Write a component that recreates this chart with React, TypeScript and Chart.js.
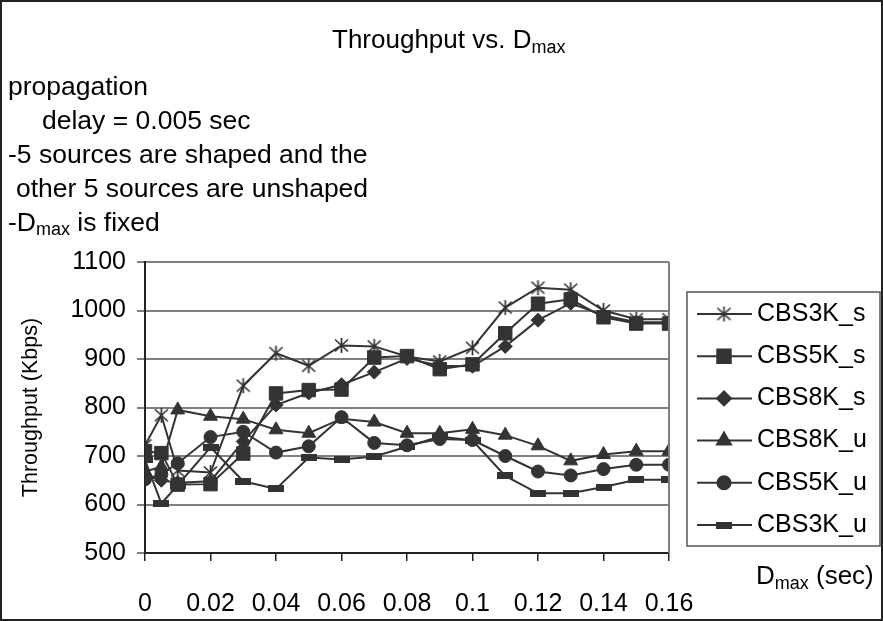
import { useEffect, useRef } from 'react';
import { Chart, registerables } from 'chart.js';
import { drawPoint } from 'chart.js/helpers';

Chart.register(...registerables);

// D_max values (sec) at which throughput was measured
const dmax = [0, 0.005, 0.01, 0.02, 0.03, 0.04, 0.05, 0.06, 0.07, 0.08, 0.09, 0.1, 0.11, 0.12, 0.13, 0.14, 0.15, 0.16];

// Throughput (Kbps) per series
const cbs3kS = [722, 784, 670, 666, 845, 912, 886, 928, 926, 905, 895, 923, 1006, 1047, 1043, 1000, 982, 982];
const cbs5kS = [710, 706, 641, 642, 705, 829, 836, 837, 903, 906, 879, 889, 953, 1014, 1023, 986, 973, 973];
const cbs8kS = [660, 650, 645, 648, 730, 805, 830, 847, 873, 901, 886, 885, 926, 980, 1015, 990, 976, 976];
const cbs8kU = [668, 678, 795, 782, 776, 754, 747, 777, 770, 747, 747, 755, 743, 721, 690, 703, 710, 710];
const cbs5kU = [652, 662, 685, 739, 750, 707, 720, 780, 727, 722, 735, 733, 700, 668, 660, 673, 682, 682];
const cbs3kU = [692, 602, 640, 718, 648, 632, 697, 693, 699, 719, 740, 732, 659, 623, 623, 636, 651, 651];

const seriesNames = ['CBS3K_s', 'CBS5K_s', 'CBS8K_s', 'CBS8K_u', 'CBS5K_u', 'CBS3K_u'];

const xTickValues = [0, 0.02, 0.04, 0.06, 0.08, 0.1, 0.12, 0.14, 0.16];
const yMin = 500;
const yMax = 1100;
const yStep = 100;

const noteLines: { text: string; sub?: string; rest?: string; indent: number }[] = [
  { text: 'propagation', indent: 8 },
  { text: 'delay = 0.005 sec', indent: 42 },
  { text: '-5 sources are shaped and the', indent: 8 },
  { text: 'other 5 sources are unshaped', indent: 16 },
  { text: '-D', sub: 'max', rest: ' is fixed', indent: 8 },
];

const INK = '#333333';
const FONT = '"Liberation Sans", Arial, Helvetica, sans-serif';
const TICK_SIZE = 25;
const NOTE_SIZE = 26.5;
const TITLE_SIZE = 26;

function makeAsterisk(): HTMLCanvasElement {
  const c = document.createElement('canvas');
  c.width = 17;
  c.height = 17;
  const g = c.getContext('2d')!;
  g.strokeStyle = INK;
  g.lineWidth = 1.7;
  g.beginPath();
  g.moveTo(8.5, 1);
  g.lineTo(8.5, 16);
  g.moveTo(2, 2.5);
  g.lineTo(15, 14.5);
  g.moveTo(15, 2.5);
  g.lineTo(2, 14.5);
  g.stroke();
  return c;
}

function makeDash(): HTMLCanvasElement {
  const c = document.createElement('canvas');
  c.width = 16;
  c.height = 7;
  const g = c.getContext('2d')!;
  g.fillStyle = INK;
  g.fillRect(0, 0, 16, 7);
  return c;
}

function drawWithSub(
  ctx: CanvasRenderingContext2D,
  x: number,
  y: number,
  size: number,
  text: string,
  sub?: string,
  rest?: string,
) {
  ctx.font = `${size}px ${FONT}`;
  ctx.fillText(text, x, y);
  let cx = x + ctx.measureText(text).width;
  if (sub) {
    const subSize = Math.round(size * 0.68);
    ctx.font = `${subSize}px ${FONT}`;
    ctx.fillText(sub, cx, y + size * 0.27);
    cx += ctx.measureText(sub).width;
    ctx.font = `${size}px ${FONT}`;
  }
  if (rest) {
    ctx.fillText(rest, cx, y);
  }
}

export default function App() {
  const canvasRef = useRef<HTMLCanvasElement | null>(null);

  useEffect(() => {
    const canvas = canvasRef.current;
    if (!canvas) return;

    const asterisk = makeAsterisk();
    const dash = makeDash();

    const styles: { pointStyle: any; radius: number }[] = [
      { pointStyle: asterisk, radius: 8 },
      { pointStyle: 'rect', radius: 9.5 },
      { pointStyle: 'rectRot', radius: 7 },
      { pointStyle: 'triangle', radius: 8 },
      { pointStyle: 'circle', radius: 6.5 },
      { pointStyle: dash, radius: 7 },
    ];
    const values = [cbs3kS, cbs5kS, cbs8kS, cbs8kU, cbs5kU, cbs3kU];

    const datasets = values.map((vals, i) => ({
      label: seriesNames[i],
      data: vals.map((v, j) => ({ x: dmax[j], y: v })),
      borderColor: INK,
      backgroundColor: INK,
      borderWidth: 2,
      pointStyle: styles[i].pointStyle,
      pointRadius: styles[i].radius,
      pointBackgroundColor: INK,
      pointBorderColor: INK,
      pointBorderWidth: 1,
      tension: 0,
      order: 5 - i,
    }));

    const decorations = {
      id: 'decorations',
      afterDraw(chart: Chart) {
        const ctx = chart.ctx;
        const area = chart.chartArea;
        ctx.save();

        // right edge of the plot frame
        ctx.strokeStyle = '#808080';
        ctx.lineWidth = 2;
        ctx.beginPath();
        ctx.moveTo(area.right, area.top);
        ctx.lineTo(area.right, area.bottom);
        ctx.stroke();

        ctx.fillStyle = '#000';
        ctx.textBaseline = 'middle';
        ctx.textAlign = 'left';

        // title
        drawWithSub(ctx, 332, 41, TITLE_SIZE, 'Throughput vs. D', 'max');

        // notes
        noteLines.forEach((ln, i) => {
          drawWithSub(ctx, ln.indent, 88 + i * 33.8, NOTE_SIZE, ln.text, ln.sub, ln.rest);
        });

        // x-axis title
        drawWithSub(ctx, 756, 577, TITLE_SIZE, 'D', 'max', ' (sec)');

        // y-axis title
        ctx.save();
        ctx.translate(31, (area.top + area.bottom) / 2);
        ctx.rotate(-Math.PI / 2);
        ctx.textAlign = 'center';
        ctx.font = `21.5px ${FONT}`;
        ctx.fillText('Throughput (Kbps)', 0, 0);
        ctx.restore();

        // legend
        const lx = 687;
        const ly = 292;
        const lw = 193;
        const lh = 254;
        ctx.strokeStyle = '#555';
        ctx.lineWidth = 1.5;
        ctx.strokeRect(lx, ly, lw, lh);
        seriesNames.forEach((name, i) => {
          const y = 314 + i * 42.2;
          ctx.strokeStyle = INK;
          ctx.lineWidth = 2;
          ctx.beginPath();
          ctx.moveTo(697, y);
          ctx.lineTo(752, y);
          ctx.stroke();
          ctx.fillStyle = INK;
          drawPoint(ctx, { pointStyle: styles[i].pointStyle, radius: styles[i].radius, rotation: 0, borderWidth: 1 } as any, 724, y);
          ctx.fillStyle = '#000';
          ctx.font = `${TICK_SIZE}px ${FONT}`;
          ctx.textAlign = 'left';
          ctx.textBaseline = 'middle';
          ctx.fillText(name, 757, y);
        });

        // outer frame
        ctx.strokeStyle = '#222';
        ctx.lineWidth = 2;
        ctx.strokeRect(1, 1, chart.width - 2, chart.height - 2);

        ctx.restore();
      },
    };

    const chart = new Chart(canvas, {
      type: 'line',
      data: { datasets },
      options: {
        animation: false,
        responsive: false,
        devicePixelRatio: 1,
        layout: { padding: { left: 0, top: 262, right: 214, bottom: 0 } },
        plugins: {
          legend: { display: false },
          title: { display: false },
          tooltip: { enabled: false },
        },
        scales: {
          x: {
            type: 'linear',
            min: xTickValues[0],
            max: xTickValues[xTickValues.length - 1],
            afterBuildTicks: (scale: any) => {
              scale.ticks = xTickValues.map((v) => ({ value: v }));
            },
            afterFit: (scale: any) => {
              scale.height = 68;
            },
            ticks: {
              color: '#000',
              font: { family: FONT, size: TICK_SIZE },
              padding: 28,
              maxRotation: 0,
              autoSkip: false,
              callback: (v: any) => String(Math.round(Number(v) * 100) / 100),
            },
            grid: {
              drawOnChartArea: false,
              drawTicks: true,
              tickLength: 8,
              color: '#222',
              lineWidth: 1.5,
            },
            border: { color: '#222', width: 2 },
          },
          y: {
            type: 'linear',
            min: yMin,
            max: yMax,
            afterFit: (scale: any) => {
              scale.width = 145;
            },
            ticks: {
              stepSize: yStep,
              color: '#000',
              font: { family: FONT, size: TICK_SIZE },
              padding: 11,
              callback: (v: any) => String(v),
            },
            grid: {
              color: '#808080',
              lineWidth: 2,
              drawTicks: true,
              tickLength: 8,
            },
            border: { color: '#222', width: 2 },
          },
        },
      },
      plugins: [decorations],
    });

    return () => {
      chart.destroy();
    };
  }, []);

  return (
    <div style={{ position: 'fixed', left: 0, top: 0, width: 883, height: 621, background: '#fff' }}>
      <canvas ref={canvasRef} width={883} height={621} style={{ display: 'block', width: 883, height: 621 }} />
    </div>
  );
}
